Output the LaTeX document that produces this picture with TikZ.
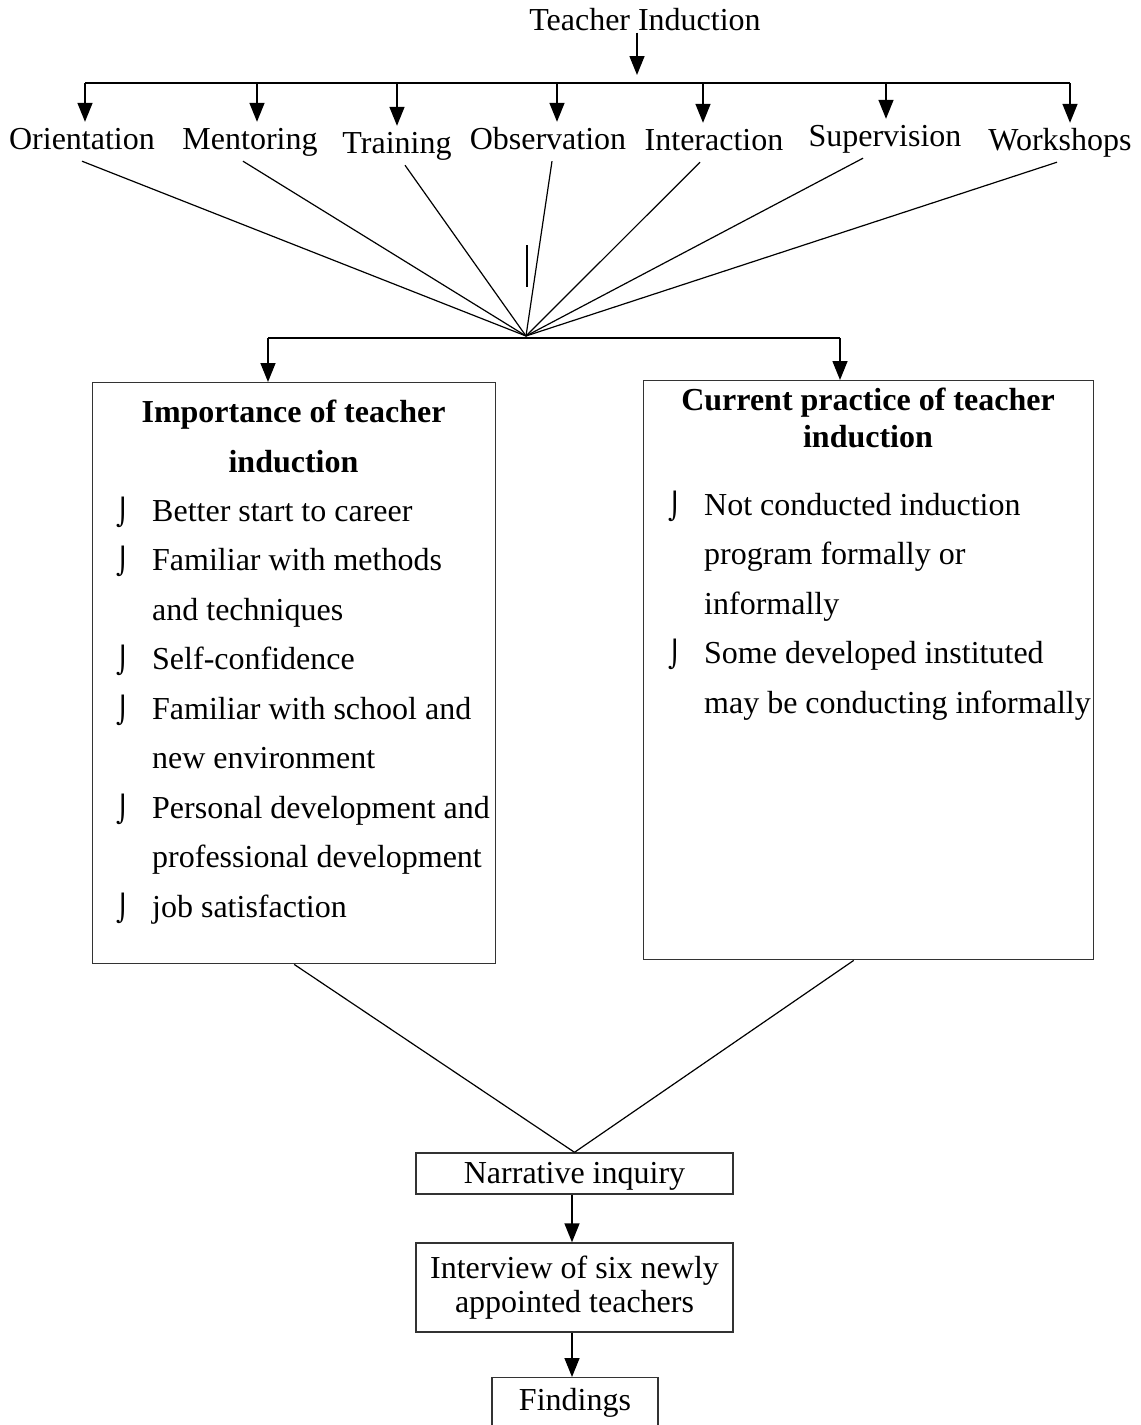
\documentclass[tikz,border=0pt]{standalone}
\usepackage{fontspec}
\setmainfont{Liberation Serif}
\newfontfamily\bulletfont{DejaVu Sans}
\usetikzlibrary{arrows.meta}

\tikzset{
    arr/.style={-{Triangle[length=19pt,width=15pt]}, line width=1.5pt},
    link/.style={line width=1.2pt},
    topic/.style={inner sep=5pt, text height=22pt, text depth=7pt},
    box/.style={draw=black!80, line width=1.4pt, inner sep=0pt},
}
\newcommand{\bul}{{\bulletfont\fontsize{26}{26}\selectfont ⌡}}

\begin{document}
\begin{tikzpicture}[x=1pt, y=-1pt, font=\fontsize{32}{38}\selectfont]
    \useasboundingbox (0,0) rectangle (1141,1425);
    \clip (0,0) rectangle (1141,1425);

    \node[inner sep=2pt, anchor=base] (induct) at (645,30) {Teacher Induction};
    \coordinate (split) at (637,83);
    \draw[arr] (637,0 |- induct.south) -- ([yshift=8pt]split);
    \draw[arr, -] (85,83) -- (1070,83);

    \foreach \n/\x/\y/\t in {orient/82/149/Orientation, mentor/250/149/Mentoring,
        train/397/153/Training, observ/548/149/Observation, interact/714/150/Interaction,
        superv/885/146/Supervision, workshop/1060/150/Workshops}
        \node[topic, anchor=base] (\n) at (\x,\y) {\t};

    \foreach \n/\x in {orient/85, mentor/257, train/397, observ/557, interact/703,
        superv/886, workshop/1070}
        \draw[arr] (\x,0 |- split) -- (\x,0 |- \n.north);

    % fan into one point
    \coordinate (hub) at (526,336);
    \foreach \n/\x in {orient/82, mentor/243, train/405, observ/552, interact/700,
        superv/863, workshop/1057}
        \draw[link] (\x,0 |- \n.south) -- (hub);
    \draw[link] (527,245) -- (527,287);

    \draw[arr, -] (268,338) -- (840,338);

    \node[box, anchor=north west, minimum width=403pt, minimum height=581pt] (impbox) at (92,382) {};
    \node[box, anchor=north west, minimum width=450pt, minimum height=579pt] (curbox) at (643,380) {};
    \draw[arr] (268,338) -- (268,0 |- impbox.north);
    \draw[arr] (840,338) -- (840,0 |- curbox.north);

    \node[font=\fontsize{32}{50}\selectfont\bfseries, align=center, inner sep=0pt] (imptitle)
        at (293.5,436) {Importance of teacher\\induction};
    \node[font=\fontsize{32}{37}\selectfont\bfseries, align=center, inner sep=0pt] (curtitle)
        at (868,418) {Current practice of teacher\\induction};

    \node[anchor=base west, inner sep=0pt, font=\fontsize{32}{49.5}\selectfont] (implist) at (116,521) {%
        \begin{tabular}[t]{@{}p{36pt}@{}l@{}}
            \bul & Better start to career\\
            \bul & Familiar with methods\\
                 & and techniques\\
            \bul & Self-confidence\\
            \bul & Familiar with school and\\
                 & new environment\\
            \bul & Personal development and\\
                 & professional development\\
            \bul & job satisfaction
        \end{tabular}};
    \node[anchor=base west, inner sep=0pt, font=\fontsize{32}{49.5}\selectfont] (curlist) at (668,515) {%
        \begin{tabular}[t]{@{}p{36pt}@{}l@{}}
            \bul & Not conducted induction\\
                 & program formally or\\
                 & informally\\
            \bul & Some developed instituted\\
                 & may be conducting informally
        \end{tabular}};

    \node[box, minimum width=317pt, minimum height=41pt, text height=22pt, text depth=3pt]
        (narr) at (574.5,1173.5) {Narrative inquiry};
    \node[box, minimum width=317pt, minimum height=89pt, align=center,
        font=\fontsize{32}{34}\selectfont] (interview) at (574.5,1287.5)
        {Interview of six newly\\appointed teachers};
    \node[box, anchor=north, minimum width=166pt, minimum height=50pt] (findings) at (575,1377) {Findings};

    \draw[link] (impbox.south) -- (narr.north);
    \draw[link] ([xshift=-15pt]curbox.south) -- (narr.north);
    \draw[arr] (572,0 |- narr.south) -- (572,0 |- interview.north);
    \draw[arr] (572,0 |- interview.south) -- (572,0 |- findings.north);
\end{tikzpicture}
\end{document}
